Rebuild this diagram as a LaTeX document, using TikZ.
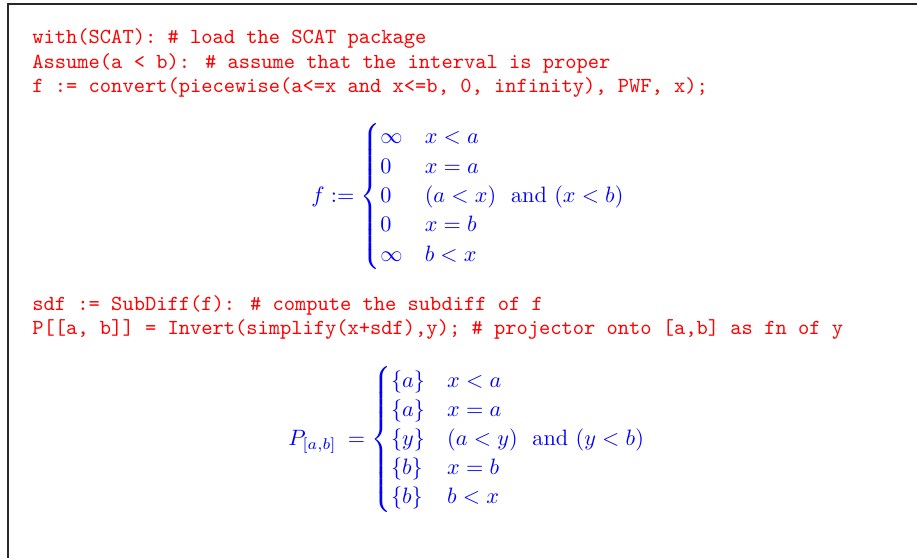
\documentclass[tikz,border=0pt]{standalone}
\usepackage{amsmath}
\usepackage{graphicx}
\definecolor{codered}{RGB}{255,0,0}
\definecolor{mapleblue}{RGB}{0,0,255}
\definecolor{framecol}{RGB}{40,40,40}
\begin{document}
\begin{tikzpicture}[x=0.4663pt,y=-0.4663pt,
  code/.style={anchor=base west, inner sep=0pt, text=codered, font=\ttfamily},
  mathout/.style={anchor=west, inner sep=0pt, text=mapleblue}]
\useasboundingbox (0,0) rectangle (917,558);
\coordinate (fbl) at (8,558);
\coordinate (ftl) at (8,4);
\coordinate (ftr) at (917,4);
\draw[framecol, line width=0.6pt] (fbl) -- (ftl) -- (ftr);
\node[code] (l1) at (32,43) {with(SCAT): \# load the SCAT package};
\node[code] (l2) at (32,68) {Assume(a < b): \# assume that the interval is proper};
\node[code] (l3) at (32,92) {f := convert(piecewise(a<=x and x<=b, 0, infinity), PWF, x);};
\node[mathout] (m1) at (311,196.5) {\scalebox{1.037}{\renewcommand{\arraystretch}{1.1}$f := \left\{\begin{array}{@{}l@{\quad}l@{}} \infty & x<a\\ 0 & x=a\\ 0 & (a<x)\ \ \text{and}\ (x<b)\\ 0 & x=b\\ \infty & b<x\end{array}\right.$}};
\node[code] (l4) at (32,310) {sdf := SubDiff(f): \# compute the subdiff of f};
\node[code] (l5) at (32,334) {P[[a, b]] = Invert(simplify(x+sdf),y); \# projector onto [a,b] as fn of y};
\node[mathout] (m2) at (288,439.5) {\scalebox{1.037}{\renewcommand{\arraystretch}{1.085}$P_{[a,b]}\mkern4mu = \left\{\begin{array}{@{}l@{\quad}l@{}} \{a\} & x<a\\ \{a\} & x=a\\ \{y\} & (a<y)\ \ \text{and}\ (y<b)\\ \{b\} & x=b\\ \{b\} & b<x\end{array}\right.$}};
\end{tikzpicture}
\end{document}
